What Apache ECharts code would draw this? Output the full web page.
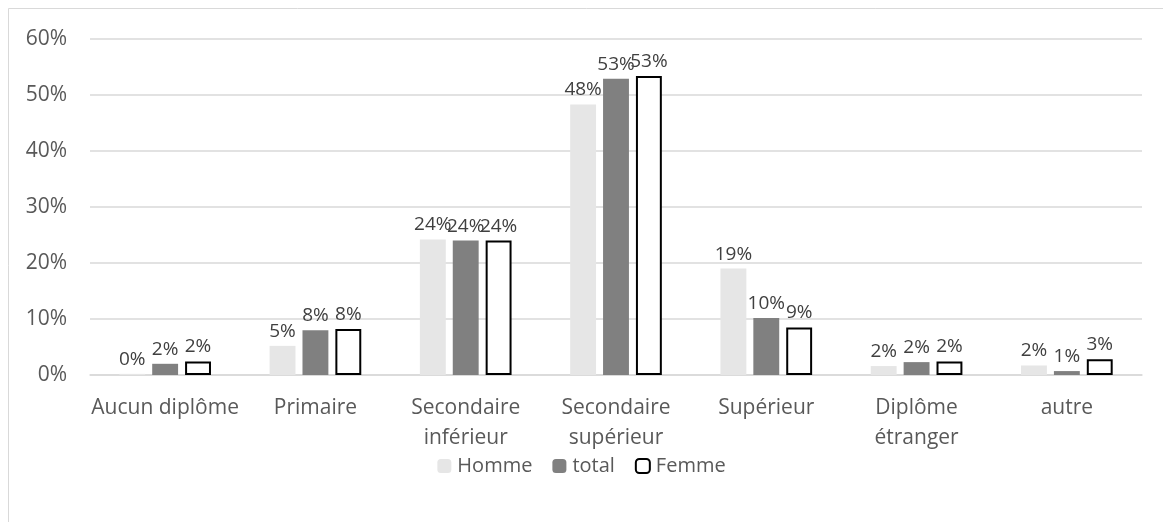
<!DOCTYPE html>
<html>
<head>
<meta charset="utf-8">
<script src="https://cdn.jsdelivr.net/npm/echarts@6/dist/echarts.min.js"></script>
<style>
  html, body { margin: 0; padding: 0; background: #fff; }
  #chart { width: 1163px; height: 522px; }
</style>
</head>
<body>
<div id="chart"></div>
<script>
// categories et valeurs (%)
var categories = ['Aucun diplôme', 'Primaire', 'Secondaire\ninférieur', 'Secondaire\nsupérieur', 'Supérieur', 'Diplôme\nétranger', 'autre']
var homme = [0.2, 5.2, 24.2, 48.3, 19.0, 1.6, 1.7]
var total = [2.0, 8.0, 24.0, 52.9, 10.2, 2.3, 0.7]
var femme = [2.4, 8.2, 24.0, 53.4, 8.5, 2.4, 2.8]
var yTicks = [0, 10, 20, 30, 40, 50, 60]

var font = 'Open Sans'
var labelStyle = {
  show: true,
  position: 'top',
  distance: 5,
  color: '#404040',
  fontFamily: font,
  fontSize: 19,
  formatter: function (p) { return Math.round(p.value) + '%' }
}

var myChart = echarts.init(document.getElementById('chart'))
myChart.setOption({
  animation: false,
  backgroundColor: '#fff',
  graphic: [{
    type: 'rect',
    shape: { x: 8.5, y: 8.5, width: 1160, height: 520 },
    style: { fill: 'none', stroke: '#d9d9d9', lineWidth: 1 },
    silent: true
  }],
  grid: { left: 90, right: 21, top: 39, bottom: 147, containLabel: false },
  legend: {
    top: 451,
    left: 'center',
    itemWidth: 14,
    itemHeight: 14,
    itemGap: 20,
    textStyle: { color: '#595959', fontFamily: font, fontSize: 20, padding: [0, 0, 0, 1] },
    data: ['Homme', 'total', 'Femme']
  },
  xAxis: {
    type: 'category',
    data: categories,
    axisLine: { lineStyle: { color: '#d9d9d9', width: 1.5 } },
    axisTick: { show: false },
    axisLabel: { color: '#595959', fontFamily: font, fontSize: 21, margin: 18, lineHeight: 30, interval: 0 }
  },
  yAxis: {
    type: 'value',
    min: yTicks[0],
    max: yTicks[yTicks.length - 1],
    interval: 10,
    axisLine: { show: false },
    axisTick: { show: false },
    splitLine: { lineStyle: { color: '#d9d9d9', width: 1.5 } },
    axisLabel: { color: '#595959', fontFamily: font, fontSize: 21, margin: 23, formatter: '{value}%' }
  },
  series: [
    {
      name: 'Homme', type: 'bar', data: homme,
      barGap: '27%', barCategoryGap: '39%',
      itemStyle: { color: '#e6e6e6' },
      label: labelStyle
    },
    {
      name: 'total', type: 'bar', data: total,
      itemStyle: { color: '#808080' },
      label: labelStyle
    },
    {
      name: 'Femme', type: 'bar', data: femme,
      itemStyle: { color: '#ffffff', borderColor: '#000000', borderWidth: 2 },
      label: labelStyle
    }
  ]
})
</script>
</body>
</html>
